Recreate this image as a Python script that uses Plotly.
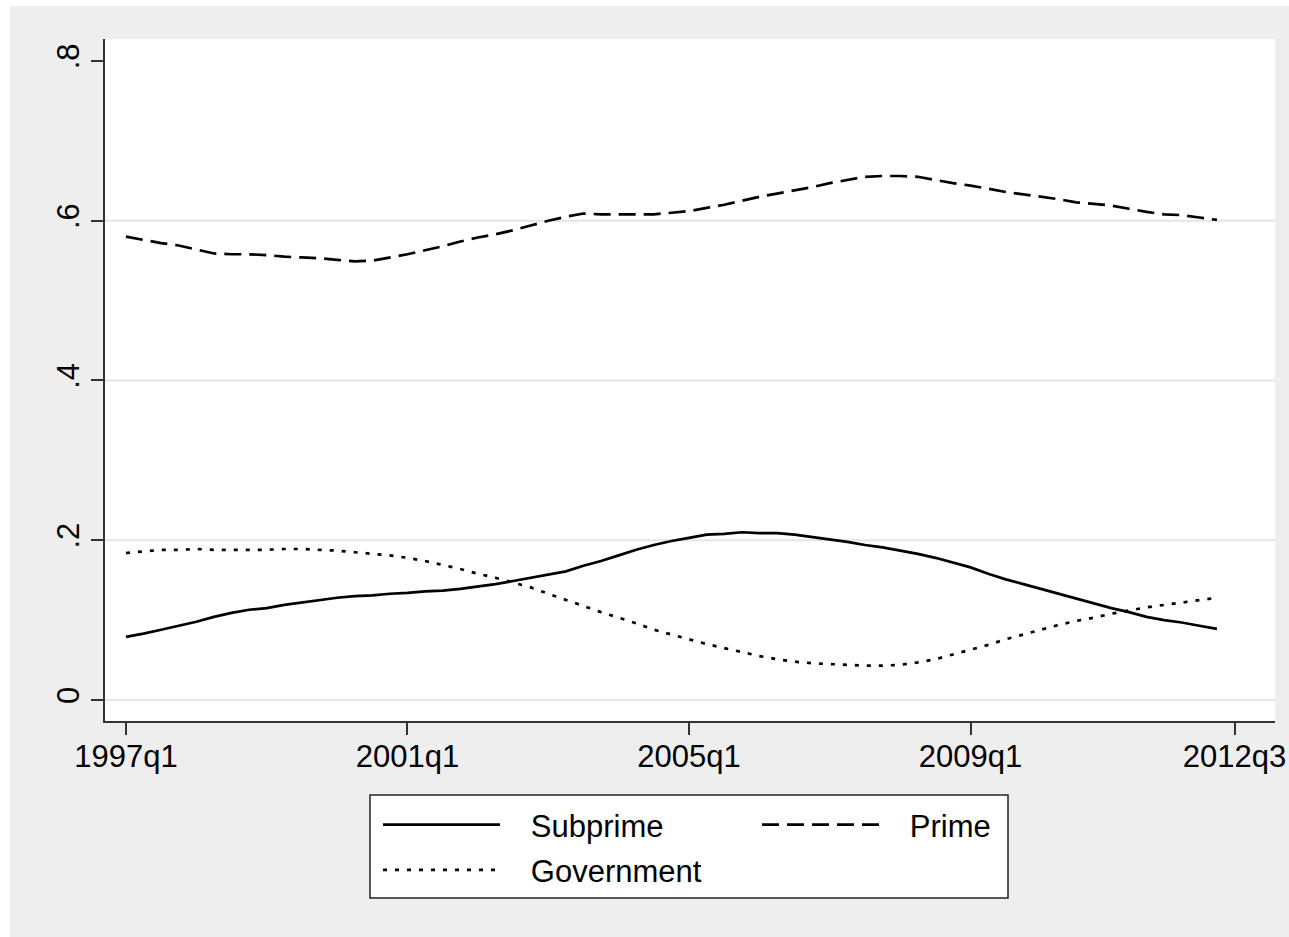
import plotly.graph_objects as go

# ---- data (quarterly, 1997q1 .. 2012q3) ----
quarter_idx = list(range(63))  # 0 = 1997q1

subprime = [0.079, 0.083, 0.088, 0.093, 0.098, 0.104, 0.109, 0.113, 0.115, 0.119,
            0.122, 0.125, 0.128, 0.130, 0.131, 0.133, 0.134, 0.136, 0.137, 0.139,
            0.142, 0.145, 0.149, 0.153, 0.157, 0.161, 0.168, 0.174, 0.181, 0.188,
            0.194, 0.199, 0.203, 0.207, 0.208, 0.210, 0.209, 0.209, 0.207, 0.204,
            0.201, 0.198, 0.194, 0.191, 0.187, 0.183, 0.178, 0.172, 0.166, 0.158,
            0.151, 0.145, 0.139, 0.133, 0.127, 0.121, 0.115, 0.110, 0.104, 0.100,
            0.097, 0.093, 0.089]

prime = [0.580, 0.576, 0.572, 0.569, 0.564, 0.559, 0.558, 0.558, 0.557, 0.555,
         0.554, 0.553, 0.551, 0.549, 0.550, 0.554, 0.558, 0.563, 0.568, 0.574,
         0.579, 0.583, 0.588, 0.594, 0.600, 0.605, 0.609, 0.608, 0.608, 0.608,
         0.608, 0.610, 0.612, 0.616, 0.620, 0.625, 0.630, 0.634, 0.638, 0.642,
         0.647, 0.651, 0.655, 0.656, 0.656, 0.655, 0.651, 0.647, 0.644, 0.640,
         0.636, 0.633, 0.630, 0.627, 0.623, 0.621, 0.619, 0.615, 0.611, 0.608,
         0.607, 0.604, 0.601]

government = [0.184, 0.186, 0.188, 0.188, 0.189, 0.188, 0.188, 0.188, 0.188, 0.189,
              0.189, 0.188, 0.187, 0.185, 0.183, 0.181, 0.178, 0.174, 0.169, 0.164,
              0.158, 0.153, 0.147, 0.141, 0.133, 0.125, 0.118, 0.110, 0.103, 0.096,
              0.088, 0.082, 0.076, 0.070, 0.065, 0.060, 0.055, 0.051, 0.048, 0.046,
              0.045, 0.044, 0.043, 0.043, 0.044, 0.047, 0.051, 0.057, 0.063, 0.069,
              0.076, 0.082, 0.088, 0.094, 0.099, 0.103, 0.108, 0.112, 0.116, 0.119,
              0.122, 0.125, 0.128]

series_names = ["Subprime", "Government", "Prime"]
x_tick_vals = [0, 16, 32, 48, 63]
x_tick_text = ["1997q1", "2001q1", "2005q1", "2009q1", "2012q3"]
y_tick_vals = [0, 0.2, 0.4, 0.6, 0.8]
y_tick_text = ["0", ".2", ".4", ".6", ".8"]
grid_vals = [0, 0.2, 0.4, 0.6]

FONT = "Liberation Sans, Arial, sans-serif"
FS = 31
PAD = "\u00a0\u00a0\u00a0"

fig = go.Figure()
fig.add_trace(go.Scatter(x=quarter_idx, y=subprime, mode="lines", name=PAD + series_names[0],
                         line=dict(color="black", width=2.7), legend="legend",
                         legendgroup="a"))
fig.add_trace(go.Scatter(x=quarter_idx, y=government, mode="lines", name=PAD + series_names[1],
                         line=dict(color="black", width=2.7, dash="4px,8px"),
                         legend="legend", legendgroup="b"))
fig.add_trace(go.Scatter(x=quarter_idx, y=prime, mode="lines", name=PAD + series_names[2],
                         line=dict(color="black", width=2.7, dash="17px,8px"),
                         legend="legend2"))

W, H = 1289, 937
L, R, T, B = 105, 14, 39, 216
PW, PH = W - L - R, H - T - B


def px(xp):
    return (xp - L) / PW


def py(yp):
    return (H - B - yp) / PH


shapes = []
for g in grid_vals:
    shapes.append(dict(type="line", xref="paper", yref="y", x0=0, x1=1, y0=g, y1=g,
                       line=dict(color="#e4e4e4", width=2), layer="below"))
# white outer strips (left/top)
shapes.append(dict(type="rect", xref="paper", yref="paper",
                   x0=px(0), x1=px(10), y0=py(H), y1=py(0),
                   fillcolor="white", line=dict(width=0), layer="below"))
shapes.append(dict(type="rect", xref="paper", yref="paper",
                   x0=px(0), x1=px(W), y0=py(6), y1=py(0),
                   fillcolor="white", line=dict(width=0), layer="below"))
# legend box
shapes.append(dict(type="rect", xref="paper", yref="paper",
                   x0=px(370), x1=px(1008), y0=py(898), y1=py(795),
                   fillcolor="white", line=dict(color="#222", width=1.5), layer="below"))

legend_common = dict(bgcolor="rgba(0,0,0,0)", borderwidth=0,
                     font=dict(family=FONT, size=FS, color="black"),
                     itemwidth=117, yanchor="top", xanchor="left",
                     orientation="v", traceorder="grouped", tracegroupgap=2)

fig.update_layout(
    width=W, height=H,
    margin=dict(l=L, r=R, t=T, b=B, autoexpand=False),
    paper_bgcolor="#eeeeee", plot_bgcolor="white",
    font=dict(family=FONT, size=FS, color="black"),
    showlegend=True,
    legend=dict(x=px(378), y=py(798), **legend_common),
    legend2=dict(x=px(757), y=py(798), **legend_common),
    shapes=shapes,
    xaxis=dict(range=[-1.19, 65.3], tickmode="array", tickvals=x_tick_vals,
               ticktext=x_tick_text, showgrid=False, zeroline=False, automargin=False,
               showline=True, linecolor="#333", linewidth=2,
               ticks="outside", ticklen=12, tickwidth=2, tickcolor="#333",
               ticklabelstandoff=-5,
               tickfont=dict(family=FONT, size=FS, color="black")),
    yaxis=dict(range=[-0.0263, 0.8275], tickmode="array", tickvals=y_tick_vals,
               ticktext=y_tick_text, showgrid=False, zeroline=False, automargin=False,
               showline=True, linecolor="#333", linewidth=2,
               ticks="outside", ticklen=12, tickwidth=2, tickcolor="#333",
               tickangle=-90,
               tickfont=dict(family=FONT, size=FS, color="black")),
)

fig.write_html("out.html", config={"displayModeBar": False},
               post_script="document.body.style.margin='0';")
